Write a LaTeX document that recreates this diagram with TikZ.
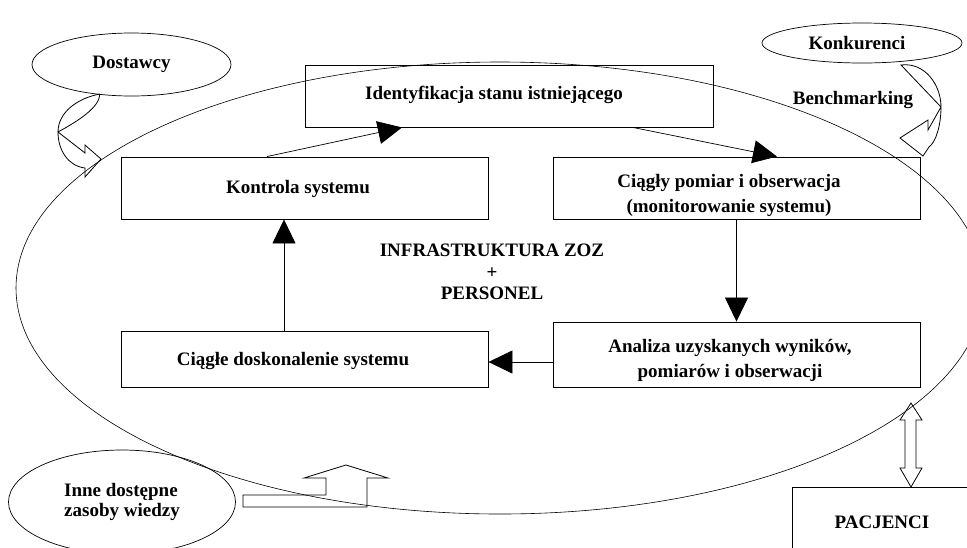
\documentclass[tikz,border=0pt]{standalone}
\usepackage{fontspec}
\setmainfont{Liberation Serif}
\usetikzlibrary{arrows.meta,shapes.geometric,calc}

\begin{document}
\begin{tikzpicture}[x=1pt, y=-1pt,
  font=\fontsize{19}{25}\selectfont\bfseries,
  box/.style={draw, line width=0.9pt, inner sep=0pt},
  cloud/.style={draw, ellipse, line width=0.7pt, inner sep=0pt},
  flow/.style={line width=0.7pt, -{Triangle[length=24pt,width=23pt]}},
  blockarrow/.style={draw, line width=0.8pt, line join=miter}]

\useasboundingbox (0,0) rectangle (967,547);

% organizacja
\draw[line width=0.6pt] (500,288) ellipse [x radius=484, y radius=226];

\node[box, minimum width=408pt, minimum height=62pt] (ide) at (509,96) {};
\node[box, minimum width=367pt, minimum height=62pt] (kon) at (304.5,188) {};
\node[box, minimum width=367pt, minimum height=62pt] (cia) at (736.5,188) {};
\node[box, minimum width=367pt, minimum height=65pt] (ana) at (736.5,354.5) {};
\node[box, minimum width=367pt, minimum height=56pt] (dos) at (304.5,359) {};

\node (ide-t) at (494,95) {Identyfikacja stanu istniejącego};
\node (kon-t) at (298,189) {Kontrola systemu};
\node[align=center] (cia-t) at (729,195.5) {Ciągły pomiar i obserwacja\\(monitorowanie systemu)};
\node[align=center] (ana-t) at (730,360) {Analiza uzyskanych wyników,\\pomiarów i obserwacji};
\node (dos-t) at (293,361) {Ciągłe doskonalenie systemu};

\node[align=center, font=\fontsize{19}{21.5}\selectfont\bfseries] (inf) at (492,272) {INFRASTRUKTURA ZOZ\\+\\PERSONEL};

\draw[flow] ($(kon.north)+(-37.5,0)$) -- ($(ide.south)+(-107,0)$);
\draw[flow] ($(ide.south)+(124,0)$) -- ($(cia.north)+(40.5,0)$);
\draw[flow] (cia.south) -- (ana.north);
\draw[flow] ($(ana.west)+(0,7.5)$) -- ($(dos.east)+(0,3)$);
\draw[flow] ($(dos.north)+(-20.5,0)$) -- ($(kon.south)+(-20.5,0)$);

% otoczenie
\node[cloud, minimum width=199pt, minimum height=63pt] (dst) at (131.5,64.5) {Dostawcy};
\node[cloud, minimum width=200pt, minimum height=40pt] (kku) at (862,43) {};
\node (kku-t) at (857,43) {Konkurenci};
\node (bm) at (853,100) {Benchmarking};
\node[cloud, minimum width=227pt, minimum height=104pt, align=left,
      font=\fontsize{19}{20.5}\selectfont\bfseries] (inn) at (122,502) {Inne dostępne\\zasoby wiedzy};
\node[box, minimum width=180pt, minimum height=70pt] (pac) at (882,522) {PACJENCI};

% strzalki blokowe
\draw[blockarrow] (100,94) .. controls (78,98) and (58,112) .. (58,132)
  .. controls (58,150) and (68,166) .. (85,168) -- (85,177) -- (101,159) -- (85,145) -- (85,153) -- (58,132)
  .. controls (78,121) and (99,108) .. (100,94);
\draw[blockarrow] (901,65) .. controls (925,62) and (941,85) .. (941,107)
  .. controls (941,125) and (936,142) .. (929,147) -- (923,156) -- (900,138) -- (928,120) -- (928,130) -- (941,107) -- cycle;
\draw[blockarrow] (243,495) -- (326,495) -- (326,478) -- (304,478) -- (346,465) -- (388,478)
  -- (367,478) -- (367,507) -- (243,507) -- cycle;
\draw[blockarrow] (911,403) -- (922,420) -- (916,420) -- (916,468) -- (922,468) -- (911,487)
  -- (900,468) -- (905,468) -- (905,420) -- (900,420) -- cycle;

\end{tikzpicture}
\end{document}
